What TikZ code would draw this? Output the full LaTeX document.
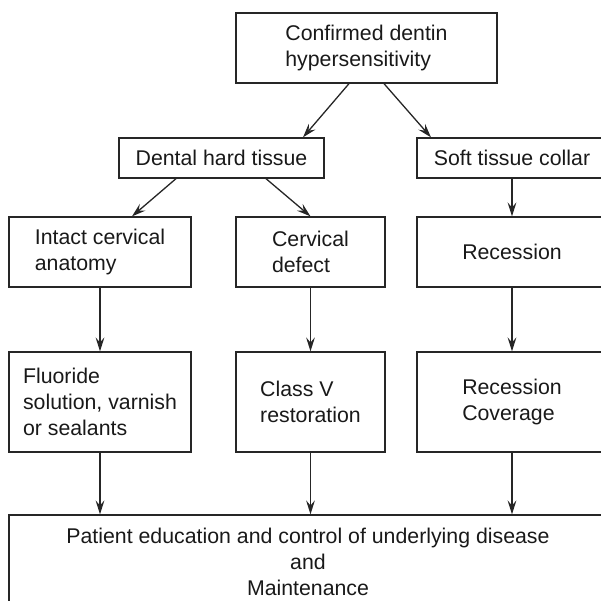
\documentclass[tikz,border=0pt]{standalone}
\usepackage{fontspec}
\setmainfont{Liberation Sans}
\usetikzlibrary{arrows.meta,calc}
\tikzset{
  box/.style={draw=black!85, line width=0.65pt, inner sep=0pt, align=left,
    font=\fontsize{10.65}{13}\selectfont, text=black!90},
  link/.style={draw=black!85, line width=0.65pt,
    -{Stealth[length=7pt,width=4.4pt,inset=2.6pt]}},
}

\begin{document}
\begin{tikzpicture}[x=0.5pt, y=-0.5pt]
			%%%%% START %%%%%
			\clip (0,0) rectangle (601,601);
			
			\node[box, minimum width=130.5pt, minimum height=35pt] (conf) at (366.5, 48) {Confirmed dentin\\hypersensitivity};
			
			\node[box, minimum width=102.5pt, minimum height=20pt] (hard) at (221.5, 158) {Dental hard tissue};
			\node[box, minimum width=95pt, minimum height=20pt] (soft) at (512, 158) {Soft tissue collar};
			
			\node[box, minimum width=91pt, minimum height=35pt] (intact) at (100, 252) {Intact cervical\\anatomy};
			\node[box, minimum width=74.5pt, minimum height=35pt] (defect) at (310.5, 252) {Cervical\\defect};
			\node[box, minimum width=95pt, minimum height=35pt] (recess) at (512, 252) {Recession};
			
			\node[box, minimum width=91pt, minimum height=50pt] (fluor) at (100, 402) {Fluoride\\solution, varnish\\or sealants};
			\node[box, minimum width=74.5pt, minimum height=50pt] (classv) at (310.5, 402) {Class V\\restoration};
			\node[box, minimum width=95pt, minimum height=50pt] (cover) at (512, 402) {Recession\\Coverage};
			
			\node[box, align=center, minimum width=299pt, minimum height=47pt] (care) at (308, 562) {Patient education and control of underlying disease\\and\\Maintenance};
			
			\draw[link] ($(conf.south)+(-17.5,0)$) -- ($(hard.north)+(81.5,0)$);
			\draw[link] ($(conf.south)+(17.5,0)$) -- ($(soft.north)+(-81,0)$);
			
			\draw[link] ($(hard.south)+(-45.5,0)$) -- ($(intact.north)+(32,0)$);
			\draw[link] ($(hard.south)+(44.5,0)$) -- (defect.north);
			\draw[link] (soft.south) -- (recess.north);
			
			\draw[link] (intact.south) -- (fluor.north);
			\draw[link] (defect.south) -- (classv.north);
			\draw[link] (recess.south) -- (cover.north);
			
			\draw[link] (fluor.south) -- (fluor.south |- care.north);
			\draw[link] (classv.south) -- (classv.south |- care.north);
			\draw[link] (cover.south) -- (cover.south |- care.north);
			
			%%%%% END %%%%%
		\end{tikzpicture}
\end{document}
